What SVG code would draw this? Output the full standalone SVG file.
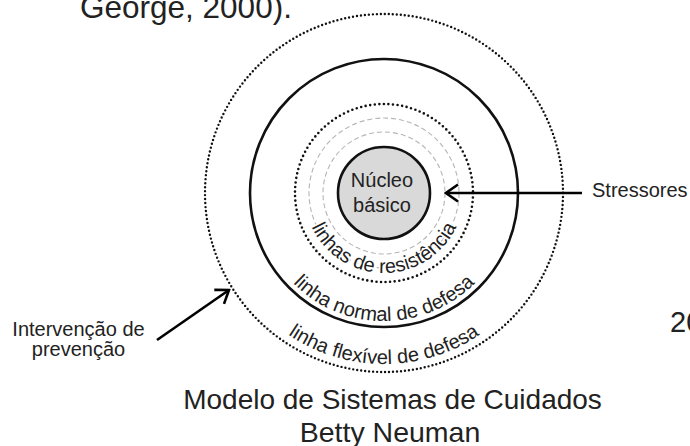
<svg xmlns="http://www.w3.org/2000/svg" width="690" height="446" viewBox="0 0 690 446">
  <style>
    .t { font-family: "Liberation Sans", Arial, sans-serif; fill: #222; }
    .lbl { font-size: 20px; }
    .arc { font-size: 20px; fill: #222; }
    .dots { fill: none; stroke: #111; stroke-linecap: round; }
    .dash { fill: none; stroke: #b5b5b5; stroke-width: 1.1; stroke-dasharray: 5 3; }
    .conn { stroke: #000; stroke-width: 2.6; fill: none; }
  </style>
  <defs>
    <marker id="chev" viewBox="-14 -11 16 22" markerWidth="16" markerHeight="22" refX="0" refY="0" orient="auto" markerUnits="userSpaceOnUse">
      <path d="M-12,-8.5 L0,0 L-12,8.5" fill="none" stroke="#000" stroke-width="2.6"/>
    </marker>
    <path id="arcRes" d="M304,193 A80,80 0 0 0 464,193"/>
    <path id="arcNorm" d="M256,193 A128,128 0 0 0 512,193"/>
    <path id="arcFlex" d="M213,193 A171,171 0 0 0 555,193"/>
  </defs>
  <rect width="690" height="446" fill="#fff"/>

  <text class="t" x="80" y="18" font-size="31.5" fill="#000">George, 2000).</text>
  <text class="t" x="670" y="332" font-size="29" fill="#000">20</text>

  <g id="linha-flexivel">
    <circle class="dots" cx="384" cy="193" r="179" stroke-width="2.4" stroke-dasharray="0 4"/>
    <text class="t arc"><textPath href="#arcFlex" startOffset="50%" text-anchor="middle">linha flexível de defesa</textPath></text>
  </g>

  <g id="linha-normal">
    <circle cx="384" cy="193" r="134" fill="none" stroke="#111" stroke-width="2.6"/>
    <text class="t arc"><textPath href="#arcNorm" startOffset="50%" text-anchor="middle">linha normal de defesa</textPath></text>
  </g>

  <g id="linhas-resistencia">
    <circle class="dots" cx="384" cy="193" r="89" stroke-width="2.6" stroke-dasharray="0 4.6"/>
    <circle class="dash" cx="384" cy="193" r="75"/>
    <circle class="dash" cx="384" cy="193" r="61"/>
    <text class="t arc" stroke="#fff" stroke-width="3" paint-order="stroke"><textPath href="#arcRes" startOffset="50%" text-anchor="middle">linhas de resistência</textPath></text>
  </g>

  <g id="nucleo">
    <circle cx="384" cy="193" r="46" fill="#d9d9d9" stroke="#111" stroke-width="2.6"/>
    <text class="t lbl" x="382" y="187" text-anchor="middle">Núcleo</text>
    <text class="t lbl" x="382" y="212" text-anchor="middle">básico</text>
  </g>

  <g id="stressores">
    <text class="t lbl" x="592" y="197">Stressores</text>
  </g>

  <g id="intervencao">
    <text class="t lbl" x="78.5" y="336" text-anchor="middle">Intervenção de</text>
    <text class="t lbl" x="78.5" y="356" text-anchor="middle">prevenção</text>
  </g>

  <g id="titulo">
    <text class="t" x="392.5" y="409" font-size="28" text-anchor="middle">Modelo de Sistemas de Cuidados</text>
    <text class="t" x="390" y="442" font-size="28.5" text-anchor="middle">Betty Neuman</text>
  </g>

  <g id="connectors">
    <line class="conn" x1="582" y1="193" x2="446" y2="193" marker-end="url(#chev)"/>
    <line class="conn" x1="157" y1="340" x2="229" y2="290" marker-end="url(#chev)"/>
  </g>
</svg>
